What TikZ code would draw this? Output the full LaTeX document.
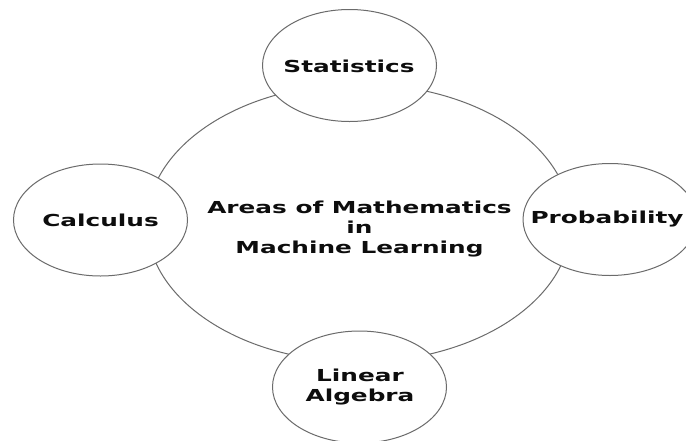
\documentclass[tikz,border=0pt]{standalone}
\usepackage{fontspec}
\setmainfont{DejaVu Sans}
\usetikzlibrary{shapes.geometric}
\begin{document}
\begin{tikzpicture}[x=1pt,y=-1pt,
  ring/.style={ellipse, draw=black!58, line width=1pt, inner sep=0pt},
  area/.style={ring, fill=white, minimum width=174pt, minimum height=112pt},
  lbl/.style={xscale=1.5, align=center, text=black!95, inner sep=0pt,
    font=\fontsize{16.5}{20}\selectfont\bfseries}]
\useasboundingbox[fill=white] (0,0) rectangle (686,440);
\node[ring, minimum width=424pt, minimum height=278pt] (big) at (359,223) {};
\node[lbl] (center) at (359.5,229) {Areas of Mathematics\\in\\Machine Learning};
\node[area] (stat) at (349.5,65.5) {};
\node[area] (calc) at (100.5,220) {};
\node[area] (prob) at (610,219.5) {};
\node[area] (linalg) at (359.5,387) {};
\node[lbl] (statT) at (349,66.5) {Statistics};
\node[lbl] (calcT) at (100.5,220.5) {Calculus};
\node[lbl] (probT) at (607,219.5) {Probability};
\node[lbl] (linalgT) at (360,387.5) {Linear\\Algebra};
\end{tikzpicture}
\end{document}
